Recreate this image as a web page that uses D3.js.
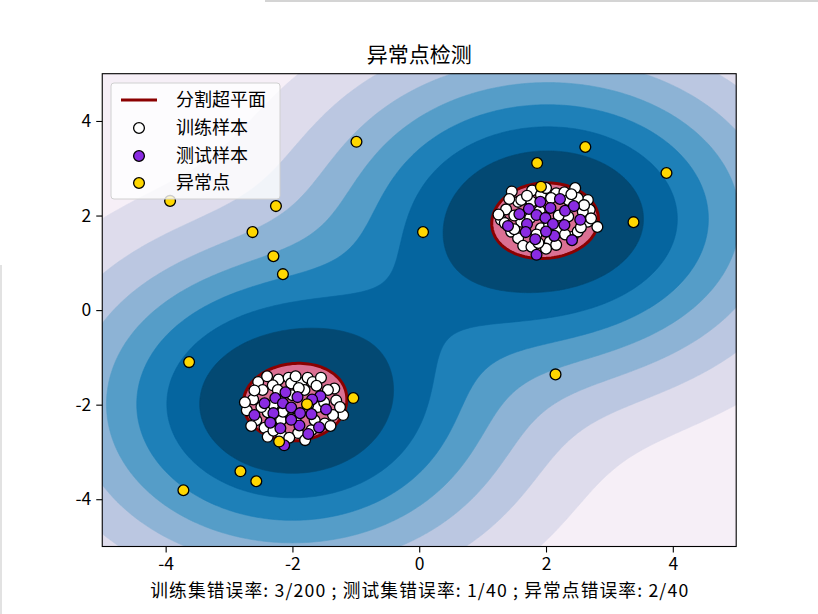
<!DOCTYPE html>
<html>
<head>
<meta charset="utf-8">
<script src="https://cdn.jsdelivr.net/npm/d3@7"></script>
<style>
  body { margin: 0; background: #fff; }
  svg text { font-family: "Noto Sans CJK SC", "Noto Sans", sans-serif; fill: #000; }
</style>
</head>
<body>
<script>
// Text
var titleText = '异常点检测',
    xLabelText = '训练集错误率: 3/200 ; 测试集错误率: 1/40 ; 异常点错误率: 2/40',
    legendLabels = ['分割超平面', '训练样本', '测试样本', '异常点'];

// Axis ticks
var xTicks = [-4, -2, 0, 2, 4],
    yTicks = [-4, -2, 0, 2, 4];

// Decision field: one bump per cluster (center, gamma x/y, weight),
// bumps blended with a power mean, then offset by rho
var clusterCenters = [[2.03, 1.93], [-2.0, -1.99]],
    clusterGamma = [[0.08, 0.088], [0.085, 0.085]],
    clusterWeight = [1, 1],
    blendPower = 1.8,
    rho = 0.952;

// PuBu colour anchors (colorbrewer 9)
var puBu = ['#fff7fb', '#ece7f2', '#d0d1e6', '#a6bddb', '#74a9cf', '#3690c0', '#0570b0', '#045a8d', '#023858'];

// Training samples (white)
var trainPoints = [
  [1.46, 2.51], [1.78, 2.53], [2.16, 2.47], [2.29, 2.49], [2.46, 2.58], [2.66, 2.33], [1.56, 2.29], [1.37, 2.13],
  [2.69, 2.12], [1.29, 1.91], [2.81, 1.76], [1.45, 1.66], [1.56, 1.52], [1.64, 1.36], [1.77, 1.34], [2.06, 1.45],
  [2.16, 1.38], [2.42, 1.55], [2.50, 1.66], [2.66, 1.87], [1.92, 1.73], [2.19, 1.69], [2.35, 1.98], [1.61, 1.87],
  [1.92, 2.44], [2.08, 2.37], [2.35, 2.33], [2.50, 2.37], [1.61, 2.33], [1.77, 2.29], [1.35, 1.84], [1.50, 1.71],
  [2.58, 2.08], [2.71, 1.94], [1.90, 2.10], [2.20, 2.00], [1.75, 1.95], [2.05, 1.80], [1.85, 1.60], [2.30, 1.60],
  [2.60, 2.22], [1.50, 2.00], [2.40, 2.45], [1.70, 2.42], [2.00, 2.58], [1.25, 2.02], [2.00, 1.30], [1.88, 1.42],
  [2.55, 1.75], [1.42, 2.35],
  [-2.54, -1.52], [-2.22, -1.47], [-2.06, -1.43], [-1.86, -1.54], [-1.76, -1.43], [-1.68, -1.52], [-1.55, -1.43],
  [-1.34, -1.66], [-1.31, -1.91], [-1.20, -2.22], [-2.62, -1.89], [-2.72, -2.12], [-2.57, -2.33], [-2.44, -2.49],
  [-2.39, -2.68], [-2.18, -2.63], [-1.91, -2.60], [-1.70, -2.54], [-1.49, -2.40], [-2.02, -1.55], [-2.31, -1.59],
  [-2.47, -1.69], [-2.23, -1.69], [-1.81, -1.69], [-1.44, -1.69], [-2.39, -2.16], [-2.18, -2.33], [-2.02, -2.29],
  [-1.65, -2.33], [-1.36, -2.22], [-2.49, -2.05], [-1.60, -2.05], [-2.00, -1.80], [-1.75, -2.00], [-2.30, -2.00],
  [-1.95, -2.30], [-2.15, -2.15], [-1.50, -1.95], [-2.60, -1.70], [-1.90, -1.65], [-2.05, -2.70], [-1.80, -2.75],
  [-2.30, -2.55], [-1.40, -2.45], [-2.75, -1.95], [-1.25, -2.05], [-2.65, -2.45], [-1.62, -1.60], [-2.40, -1.40],
  [-1.95, -1.40]
];

// Test samples (blueviolet)
var testPoints = [
  [1.91, 2.29], [1.73, 2.14], [2.07, 2.16], [2.30, 2.10], [2.44, 2.20], [1.58, 2.03], [1.85, 2.01], [1.99, 1.95],
  [1.40, 1.78], [1.70, 1.82], [2.11, 1.82], [2.29, 1.80], [2.54, 1.91], [1.83, 1.50], [2.13, 1.57], [2.41, 1.48],
  [1.85, 1.17], [1.68, 1.65], [2.00, 1.66], [2.22, 2.35],
  [-2.11, -1.74], [-1.92, -1.84], [-2.27, -1.86], [-1.56, -1.82], [-2.44, -1.97], [-2.15, -1.97], [-2.02, -2.06],
  [-1.69, -1.89], [-2.30, -2.18], [-2.60, -2.22], [-1.88, -2.18], [-1.70, -2.20], [-1.47, -2.10], [-2.19, -2.50],
  [-1.89, -2.44], [-1.58, -2.48], [-2.13, -2.86], [-2.35, -2.38], [-1.75, -2.62], [-2.02, -2.32]
];

// Outliers (gold)
var outlierPoints = [
  [-3.93, 2.31], [-2.26, 2.20], [-2.63, 1.65], [-2.30, 1.14], [-2.15, 0.76], [-0.99, 3.56], [0.06, 1.65],
  [1.86, 3.11], [2.62, 3.45], [3.90, 2.90], [1.92, 2.61], [3.38, 1.86], [2.15, -1.36], [-3.63, -1.10],
  [-1.04, -1.86], [-1.77, -1.99], [-2.21, -2.78], [-2.82, -3.41], [-2.57, -3.62], [-3.72, -3.81]
];

var W = 818, H = 614;
var plot = {left: 102.25, right: 736.2, top: 73.7, bottom: 546.5};

var svg = d3.select('body').append('svg')
    .attr('width', W)
    .attr('height', H);

// Small grey edges seen in the screenshot
svg.append('line').attr('x1', 265).attr('x2', W).attr('y1', 1).attr('y2', 1)
    .attr('stroke', '#d4d4d4').attr('stroke-width', 2);
svg.append('line').attr('x1', 1).attr('x2', 1).attr('y1', 265).attr('y2', H)
    .attr('stroke', '#e2e2e2').attr('stroke-width', 2);

var x = d3.scaleLinear().domain([-5, 5]).range([plot.left, plot.right]),
    y = d3.scaleLinear().domain([-5, 5]).range([plot.bottom, plot.top]);

svg.append('clipPath').attr('id', 'clip')
  .append('rect')
    .attr('x', plot.left).attr('y', plot.top)
    .attr('width', plot.right - plot.left).attr('height', plot.bottom - plot.top);

// Decision function
function decision(px, py) {
    var s = 0;
    for (var k = 0; k < clusterCenters.length; k++) {
        var dx = px - clusterCenters[k][0], dy = py - clusterCenters[k][1];
        var g = clusterWeight[k] * Math.exp(-(clusterGamma[k][0] * dx * dx + clusterGamma[k][1] * dy * dy));
        s += Math.pow(g, blendPower);
    }
    return Math.pow(s, 1 / blendPower) - rho;
}

// Sample the field on a grid
var n = 241, step = 10 / (n - 1), values = new Array(n * n);
for (var j = 0; j < n; j++) {
    for (var i = 0; i < n; i++) {
        values[j * n + i] = decision(-5 + i * step, -5 + j * step);
    }
}
var zMin = d3.min(values);
var levels = d3.range(9).map(function(k) { return zMin + k * (0 - zMin) / 8; });

var bandColor = d3.scaleLinear()
    .domain(d3.range(puBu.length).map(function(k) { return k / (puBu.length - 1); }))
    .range(puBu)
    .interpolate(d3.interpolateRgb);

var gridToPixel = d3.geoTransform({
    point: function(gx, gy) {
        this.stream.point(x(-5 + (gx - 0.5) * step), y(-5 + (gy - 0.5) * step));
    }
});
var path = d3.geoPath(gridToPixel);

var contours = d3.contours().size([n, n]).thresholds(levels)(values);

var field = svg.append('g').attr('clip-path', 'url(#clip)');

// Filled bands, min .. 0
field.selectAll('.band')
    .data(contours.slice(0, 8))
    .enter().append('path')
    .attr('class', 'band')
    .attr('d', path)
    .attr('fill', function(d, i) { return bandColor((i + 0.5) / 8); })
    .attr('stroke', function(d, i) { return bandColor((i + 0.5) / 8); })
    .attr('stroke-width', 0.6);

// Inside region (>= 0) and its boundary
var inside = contours[8];
field.append('path').attr('d', path(inside)).attr('fill', 'palevioletred');
field.append('path').attr('d', path(inside))
    .attr('fill', 'none')
    .attr('stroke', 'darkred')
    .attr('stroke-width', 3);

// Points
function drawPoints(data, color) {
    svg.append('g').selectAll('circle')
        .data(data)
        .enter().append('circle')
        .attr('cx', function(d) { return x(d[0]); })
        .attr('cy', function(d) { return y(d[1]); })
        .attr('r', 5.4)
        .attr('fill', color)
        .attr('stroke', '#000')
        .attr('stroke-width', 1.3);
}
drawPoints(trainPoints, 'white');
drawPoints(testPoints, 'blueviolet');
drawPoints(outlierPoints, 'gold');

// Axes
var xAxis = d3.axisBottom(x).tickValues(xTicks).tickSize(6).tickPadding(5)
    .tickFormat(function(d) { return String(d); });
var yAxis = d3.axisLeft(y).tickValues(yTicks).tickSize(6).tickPadding(5)
    .tickFormat(function(d) { return String(d); });

var gx = svg.append('g').attr('transform', 'translate(0,' + plot.bottom + ')').call(xAxis);
var gy = svg.append('g').attr('transform', 'translate(' + plot.left + ',0)').call(yAxis);
[gx, gy].forEach(function(g) {
    g.select('.domain').remove();
    g.selectAll('line').attr('stroke', '#000').attr('stroke-width', 1.1);
    g.selectAll('text').attr('font-size', 17.5).attr('font-family', '"Noto Sans CJK SC", sans-serif');
});

// Frame
svg.append('rect')
    .attr('x', plot.left).attr('y', plot.top)
    .attr('width', plot.right - plot.left).attr('height', plot.bottom - plot.top)
    .attr('fill', 'none').attr('stroke', '#000').attr('stroke-width', 1.1);

// Title & x label
svg.append('text')
    .attr('x', (plot.left + plot.right) / 2).attr('y', 62)
    .attr('text-anchor', 'middle').attr('font-size', 21)
    .text(titleText);

svg.append('text')
    .attr('x', (plot.left + plot.right) / 2).attr('y', 597)
    .attr('text-anchor', 'middle').attr('font-size', 17.7)
    .attr('textLength', 538).attr('lengthAdjust', 'spacing')
    .text(xLabelText);

// Legend
var legend = svg.append('g').attr('transform', 'translate(111,83)');
legend.append('rect')
    .attr('width', 169).attr('height', 116).attr('rx', 3)
    .attr('fill', 'white').attr('fill-opacity', 0.8)
    .attr('stroke', '#d0d0d0').attr('stroke-width', 1);

var rowY = [17, 45, 73, 100];
legend.append('line')
    .attr('x1', 10).attr('x2', 46).attr('y1', rowY[0]).attr('y2', rowY[0])
    .attr('stroke', 'darkred').attr('stroke-width', 3);
['white', 'blueviolet', 'gold'].forEach(function(c, i) {
    legend.append('circle')
        .attr('cx', 28).attr('cy', rowY[i + 1]).attr('r', 5.4)
        .attr('fill', c).attr('stroke', '#000').attr('stroke-width', 1.3);
});
legend.selectAll('.lbl')
    .data(legendLabels)
    .enter().append('text')
    .attr('class', 'lbl')
    .attr('x', 65)
    .attr('y', function(d, i) { return rowY[i]; })
    .attr('dy', '0.36em')
    .attr('font-size', 18)
    .text(function(d) { return d; });
</script>
</body>
</html>
